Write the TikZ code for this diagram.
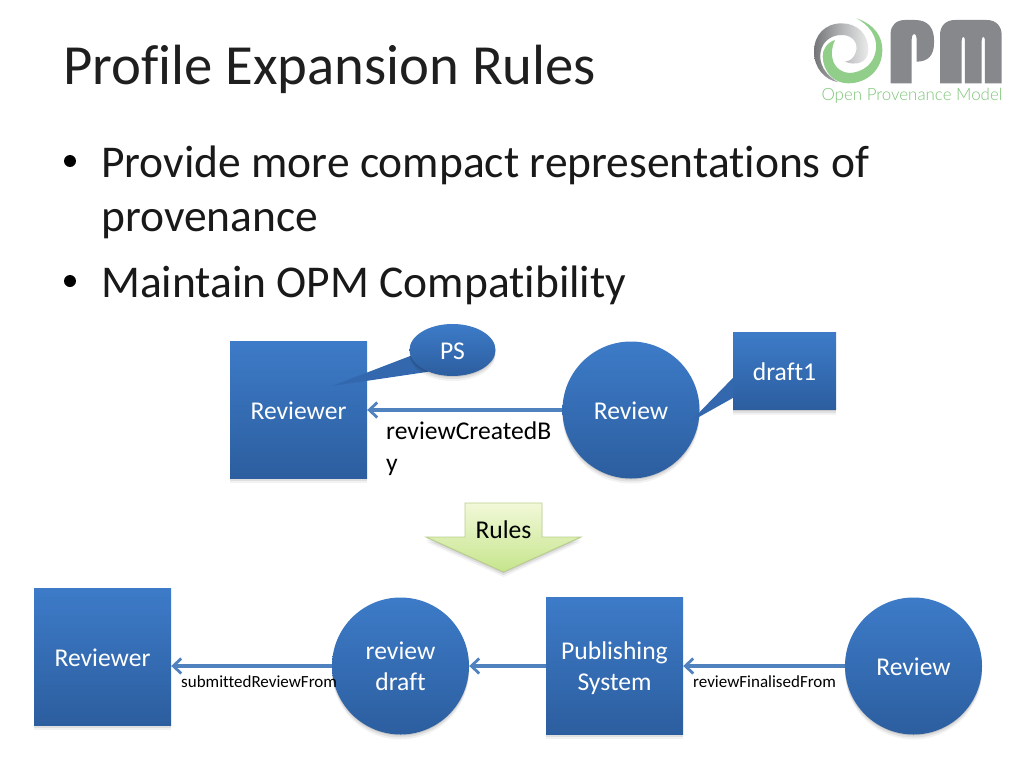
\documentclass[tikz,border=0pt]{standalone}
\usepackage{fontspec}
\setmainfont{Carlito}[Ligatures=NoCommon]
\newfontfamily\logofont{Lato Light}
\usetikzlibrary{shapes.geometric,shadows,arrows.meta}
\pgfdeclarelayer{front}
\pgfsetlayers{main,front}
\newcommand{\lowerby}[1]{\rule{0pt}{#1pt}}
\definecolor{bluetop}{HTML}{3D7BC8}
\definecolor{bluebot}{HTML}{2C5E9F}
\definecolor{conncol}{HTML}{5082C0}
\definecolor{tailcol}{HTML}{3368AE}
\definecolor{logogreen}{HTML}{7CC576}
\definecolor{logogray}{HTML}{808285}
\definecolor{rulestop}{HTML}{F1F8D8}
\definecolor{rulesbot}{HTML}{C6E58C}
\definecolor{rulesline}{HTML}{B9CF8B}
\tikzset{
  softshadow/.style={
    general shadow={shadow xshift=0pt,shadow yshift=-1pt,fill=black,opacity=.10},
    general shadow={shadow xshift=0pt,shadow yshift=-3pt,fill=black,opacity=.08},
    general shadow={shadow xshift=0pt,shadow yshift=-5pt,fill=black,opacity=.05}},
  bluefill/.style={top color=bluetop,bottom color=bluebot,text=white,inner sep=0pt,align=center,
    font=\fontsize{25.6}{31}\selectfont,softshadow},
  bluebox/.style={bluefill,rectangle,minimum width=137pt,minimum height=137pt},
  bluecirc/.style={bluefill,circle,minimum size=137pt},
  conn/.style={draw=conncol,line width=3.2pt,-{Straight Barb[length=8pt,width=15pt,line width=2.8pt]}},
  tail/.style={fill=tailcol,draw=none},
  bodytext/.style={anchor=base west,inner sep=0pt,font=\fontsize{45.5}{54}\selectfont,text=black!90},
  small/.style={anchor=base west,inner sep=0pt,font=\fontsize{17}{20}\selectfont,text=black},
  medium/.style={anchor=base west,inner sep=0pt,font=\fontsize{25.6}{31}\selectfont,text=black},
  bulletdot/.style={circle,fill=black,minimum size=12pt,inner sep=0pt},
}
\begin{document}
\begin{tikzpicture}[x=1pt,y=-1pt]
\useasboundingbox (0,0) rectangle (1024,768);
\fill[white] (0,0) rectangle (1024,768);
% title and bullets
\node[anchor=base west,inner sep=0pt,font=\fontsize{56.7}{62}\selectfont,text=black!88] (title) at (63,84) {Profile Expansion Rules};
\node[bodytext] (b1) at (101,177) {Provide more compact representations of};
\node[bodytext] (b1b) at (101,231) {provenance};
\node[bodytext] (b2) at (101,297) {Maintain OPM Compatibility};
\node[bulletdot] (d1) at (70,161) {};
\node[bulletdot] (d2) at (70,281) {};
% logo
\begin{scope}[shift={(800,0)},x=.3333pt,y=-.3333pt]
  \path[left color=logogray!90!black,right color=black!8,middle color=logogray!60]
    (205,150) .. controls (205,100) and (170,70) .. (125,70)
    .. controls (75,70) and (42,105) .. (42,155)
    .. controls (42,205) and (75,240) .. (115,247)
    .. controls (75,225) and (55,190) .. (62,155)
    .. controls (68,120) and (100,103) .. (130,105)
    .. controls (160,108) and (175,130) .. (168,155)
    .. controls (162,175) and (150,183) .. (135,185)
    .. controls (165,198) and (205,190) .. (205,150) -- cycle;
  \fill[logogreen!85]
    (170,55) .. controls (225,75) and (247,110) .. (247,150)
    .. controls (247,210) and (200,250) .. (145,250)
    .. controls (100,250) and (70,215) .. (68,170)
    .. controls (67,150) and (80,128) .. (105,120)
    .. controls (95,140) and (92,165) .. (100,185)
    .. controls (110,210) and (135,222) .. (160,218)
    .. controls (205,210) and (232,175) .. (228,130)
    .. controls (224,100) and (205,75) .. (170,55) -- cycle;
  % P
  \fill[logogray!95]
    (272,250) -- (272,100) .. controls (272,75) and (290,60) .. (315,60)
    -- (345,60) .. controls (385,60) and (402,85) .. (402,120)
    -- (402,130) .. controls (402,165) and (385,185) .. (350,185)
    -- (350,120) .. controls (350,95) and (335,95) .. (335,120)
    -- (335,250) -- cycle;
  % M
  \fill[logogray!95]
    (420,250) -- (420,105) .. controls (420,75) and (440,60) .. (465,60)
    -- (560,60) .. controls (590,60) and (605,80) .. (605,105)
    -- (605,250) -- (555,250) -- (555,125) .. controls (555,105) and (545,105) .. (545,125)
    -- (545,250) -- (495,250) -- (495,125) .. controls (495,105) and (485,105) .. (485,125)
    -- (485,250) -- cycle;
\end{scope}
\node[inner sep=0pt,font=\logofont\fontsize{16.9}{18}\selectfont,text=logogreen] (logotext) at (912,96) {Open Provenance Model};
% upper diagram
\node[bluebox] (rbox) at (298.5,409.5) {\lowerby{20}Reviewer};
\node[bluecirc] (rev) at (631,410) {\lowerby{19}Review};
\coordinate (tipa) at (332,386);
\coordinate (tipb) at (690,422);
\begin{pgfonlayer}{front}
\node[bluefill,ellipse,minimum width=86pt,minimum height=52pt] (ps) at (452.5,350) {\lowerby{19}PS};
\node[bluefill,rectangle,minimum width=103pt,minimum height=77pt] (dbox) at (784.5,371) {\lowerby{20}draft1};
\end{pgfonlayer}
\fill[tail] (ps.188) -- (tipa) -- (ps.222) -- cycle;
\fill[tail] ([yshift=-7pt]dbox.west) -- (tipb) -- ([yshift=-27pt]dbox.west) -- cycle;
\draw[conn] (rev.west) -- (rev.west -| rbox.east);
\node[medium] (lab1) at (386,439) {reviewCreatedB};
\node[medium] (lab1b) at (386,471) {y};
% rules arrow
\path[top color=rulestop,bottom color=rulesbot,draw=rulesline,line width=.9pt,softshadow]
  (465,503) -- (542,503) -- (542,537) -- (581,537) -- (503.5,572) -- (426,537) -- (465,537) -- cycle;
\node[inner sep=0pt,font=\fontsize{25.6}{31}\selectfont,text=black] (rules) at (503.5,530) {Rules};
% lower diagram
\node[bluebox] (rbot) at (102.5,656.5) {\lowerby{20}Reviewer};
\node[bluecirc] (draft) at (400.5,666) {review\\draft};
\node[bluebox] (pub) at (614.5,665.5) {\lowerby{24}Publishing\\System};
\node[bluecirc] (rev2) at (913.5,666) {\lowerby{19}Review};
\draw[conn] (draft.west) -- (draft.west -| rbot.east);
\draw[conn] (pub.west |- draft.east) -- (draft.east);
\draw[conn] (rev2.west) -- (rev2.west -| pub.east);
\node[small] (lab2) at (181,687) {submittedReviewFrom};
\node[small] (lab3) at (693,687) {reviewFinalisedFrom};
\end{tikzpicture}
\end{document}
